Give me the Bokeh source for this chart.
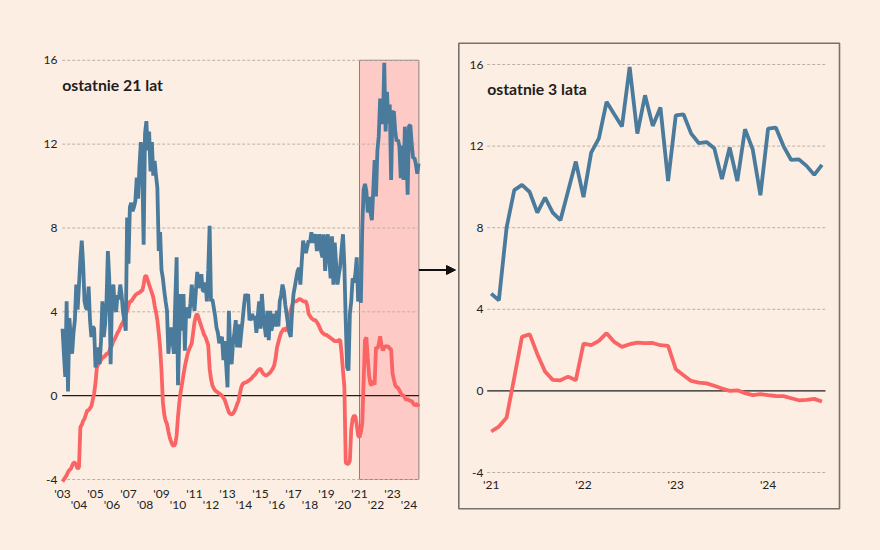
from bokeh.plotting import figure
from bokeh.models import Range1d, Arrow, NormalHead
from bokeh.core.properties import value
from bokeh.embed import file_html
from bokeh.resources import INLINE

# ---------------- data (monthly, from Jan 2003) ----------------
start_year = 2003

blue_2003_2020 = [
    3.2, 2.0, 0.9, 4.5, 0.2, 3.7, 2.8, 2.0, 3.0, 3.6, 5.3, 4.1,
    5.3, 6.5, 7.4, 6.3, 4.5, 4.2, 4.1, 5.2, 3.6, 2.8, 3.3, 3.2,
    1.35, 1.8, 2.3, 1.5, 2.6, 4.5, 2.8, 3.4, 4.5, 6.9, 5.6, 1.5,
    4.7, 5.3, 4.2, 4.0, 4.8, 4.6, 5.3, 4.8, 4.0, 3.6, 3.1, 8.5,
    6.3, 9.0, 9.2, 8.8, 9.0, 9.3, 10.4, 9.4, 11.0, 12.1, 10.9, 7.2,
    12.5, 13.1, 11.7, 12.6, 10.7, 12.1, 10.5, 11.2, 10.5, 9.9, 6.9, 7.8,
    6.0, 5.6, 5.0, 4.5, 4.05, 2.0, 2.8, 3.25, 2.6, 2.0, 4.5, 6.6,
    0.5, 3.0, 4.85, 3.1, 4.85, 2.15, 4.2, 4.0, 3.7, 4.4, 5.3, 4.6,
    4.05, 5.0, 5.9, 5.2, 5.2, 5.8, 5.0, 5.0, 5.4, 4.5, 6.0, 8.1,
    4.5, 4.6, 4.2, 3.8, 3.25, 3.0, 2.5, 2.7, 2.8, 1.7, 2.6, 1.5,
    0.4, 4.05, 2.15, 1.5, 2.5, 3.0, 3.6, 2.3, 3.4, 2.3, 3.0, 3.6,
    4.3, 4.85, 4.6, 4.85, 3.6, 3.7, 3.9, 3.6, 3.8, 3.0, 3.8, 4.5,
    3.2, 4.85, 3.9, 3.3, 2.8, 4.05, 2.65, 4.05, 3.1, 3.5, 3.9, 3.3,
    4.05, 3.3, 4.5, 4.8, 5.3, 5.0, 4.35, 3.9, 3.4, 3.0, 2.8, 4.05,
    4.85, 5.2, 5.6, 5.95, 6.1, 5.3, 6.4, 7.4, 7.1, 6.8, 7.1, 7.4,
    7.3, 7.8, 7.3, 7.5, 7.7, 6.9, 7.3, 7.7, 6.9, 6.6, 7.7, 5.95,
    6.9, 7.7, 6.5, 5.6, 7.6, 5.3, 7.3, 6.3, 5.3, 5.8, 6.2, 7.0,
    7.7, 6.2, 3.5, 1.35, 1.2, 3.9, 4.5, 5.6, 5.4, 5.8, 6.6, 4.5,
]

red_2003_2020 = [
    -4.1, -4.0, -3.9, -3.8, -3.65, -3.55, -3.5, -3.35, -3.2, -3.2, -3.3, -3.5,
    -3.4, -1.5, -1.4, -1.2, -1.1, -0.9, -0.7, -0.7, -0.6, -0.5, -0.2, 0.1,
    0.6, 1.35, 1.5, 1.6, 1.7, 1.8, 1.85, 1.9, 2.0, 2.0, 2.1, 2.3,
    2.4, 2.6, 2.7, 2.85, 3.0, 3.1, 3.25, 3.4, 3.5, 3.7, 3.9, 4.05,
    4.3, 4.5, 4.5, 4.6, 4.7, 4.8, 4.85, 4.9, 4.9, 5.0, 5.0, 5.3,
    5.7, 5.7, 5.5, 5.3, 5.1, 4.9, 4.7, 4.3, 4.0, 3.6, 3.0, 2.3,
    1.2, -0.3, -0.9, -1.2, -1.35, -1.7, -2.0, -2.2, -2.35, -2.4, -2.3, -1.9,
    -1.0, -0.3, 0.2, 0.6, 1.0, 1.4, 1.7, 2.0, 2.2, 2.35, 2.5, 3.0,
    3.5, 3.8, 3.9, 3.7, 3.5, 3.3, 3.1, 2.9, 2.8, 2.6, 2.4, 1.3,
    0.8, 0.5, 0.35, 0.25, 0.2, 0.15, 0.1, 0.05, 0.0, -0.1, -0.2, -0.4,
    -0.6, -0.8, -0.87, -0.9, -0.85, -0.75, -0.6, -0.4, -0.25, 0.1, 0.4, 0.55,
    0.6, 0.63, 0.65, 0.7, 0.75, 0.8, 0.87, 0.95, 1.0, 1.1, 1.2, 1.25,
    1.3, 1.15, 1.05, 1.0, 0.95, 1.0, 1.05, 1.1, 1.2, 1.3, 1.45, 1.8,
    2.3, 2.55, 2.8, 3.0, 3.1, 3.2, 3.15, 3.1, 3.4, 3.8, 4.1, 4.3,
    4.5, 4.5, 4.5, 4.55, 4.6, 4.6, 4.55, 4.5, 4.5, 4.5, 4.3, 3.9,
    3.8, 3.7, 3.65, 3.6, 3.6, 3.5, 3.4, 3.25, 3.1, 3.0, 2.95, 2.9,
    2.9, 2.85, 2.8, 2.75, 2.7, 2.65, 2.6, 2.6, 2.6, 2.65, 2.65, 2.0,
    1.2, 0.4, -3.2, -3.25, -3.25, -3.1, -1.6, -1.1, -0.95, -1.0, -1.4, -1.9,
]

# Jan 2021 - Aug 2024
blue_recent = [
    4.77, 4.44, 8.0, 9.84, 10.1, 9.75, 8.74, 9.48, 8.74, 8.37, 9.8, 11.24,
    9.5, 11.68, 12.38, 14.17, 13.56, 12.96, 15.88, 12.61, 14.49, 12.99, 13.89, 10.29,
    13.51, 13.56, 12.61, 12.14, 12.2, 11.9, 10.38, 11.93, 10.29, 12.83, 11.84, 9.59,
    12.86, 12.91, 12.0, 11.32, 11.35, 11.03, 10.59, 11.08,
]
red_recent = [
    -1.99, -1.75, -1.31, 0.65, 2.65, 2.78, 1.80, 0.95, 0.54, 0.52, 0.70, 0.52,
    2.32, 2.24, 2.45, 2.83, 2.40, 2.16, 2.29, 2.37, 2.34, 2.35, 2.24, 2.21,
    1.06, 0.77, 0.49, 0.41, 0.37, 0.25, 0.12, 0.0, 0.03, -0.11, -0.21, -0.16,
    -0.21, -0.25, -0.26, -0.36, -0.46, -0.44, -0.39, -0.52,
]

y_ticks = [-4, 0, 4, 8, 12, 16]
left_years_top = [2003, 2005, 2007, 2009, 2011, 2013, 2015, 2017, 2019, 2021, 2023]
left_years_bottom = [2004, 2006, 2008, 2010, 2012, 2014, 2016, 2018, 2020, 2022, 2024]
right_years = [2021, 2022, 2023, 2024]
title_left = "ostatnie 21 lat"
title_right = "ostatnie 3 lata"
zoom_start = 2021.0
zoom_end = 2024.6

# ---------------- styling / geometry ----------------
BG = "#FCEEE2"
BLUE = "#4A7B9D"
RED = "#FA6464"
GRID = "#BCB1A7"
INK = "#1E1E1E"
FONT = value("Lato")
W, H = 880, 550

# left panel pixel anchors
L_X0, L_PPY = 62.0, 16.5        # px of Jan 2003, px per year
L_Y16, L_PPU = 59.8, 20.96      # px of value 16, px per unit
# right panel pixel anchors
R_X0, R_PPY = 490.7, 92.3       # px of Jan 2021
R_Y16, R_PPU = 64.0, 20.4


def lx(px):
    return 2003 + (px - L_X0) / L_PPY


def ly(py):
    return 16 + (L_Y16 - py) / L_PPU


def rx(px):
    return 2021 + (px - R_X0) / R_PPY


def ry(py):
    return 16 + (R_Y16 - py) / R_PPU


blue_all = blue_2003_2020 + blue_recent
red_all = red_2003_2020 + red_recent
t_all = [start_year + i / 12 for i in range(len(blue_all))]
n_recent = len(blue_recent)
t_recent = t_all[-n_recent:]


def lab(y):
    return "'" + str(y)[2:]


p = figure(width=W, height=H, x_range=Range1d(lx(0), lx(W)), y_range=Range1d(ly(H), ly(0)),
           output_backend="svg", toolbar_location=None, min_border=0,
           x_axis_location=None, y_axis_location=None,
           background_fill_color=BG, border_fill_color=BG, outline_line_color=None)
p.extra_x_ranges = {"rx": Range1d(rx(0), rx(W))}
p.extra_y_ranges = {"ry": Range1d(ry(H), ry(0))}
p.xgrid.visible = False
p.ygrid.visible = False

grid_ticks = [t for t in y_ticks if t != 0]
txt = dict(text_font=FONT, text_font_size="12px", text_color="#222222")

# ---------- left panel ----------
p.quad(left=[zoom_start], right=[zoom_end], bottom=[min(y_ticks)], top=[max(y_ticks)],
       fill_color="#FFB3B3", fill_alpha=0.6, line_color="#8E7F7C", line_width=1)
p.segment(x0=[lx(61.7)] * len(grid_ticks), x1=[zoom_end] * len(grid_ticks),
          y0=grid_ticks, y1=grid_ticks, line_color=GRID, line_dash="3 2", line_width=1)
p.segment(x0=[lx(61.7)], x1=[zoom_end], y0=[0], y1=[0], line_color=INK, line_width=1.2)
p.line(t_all, red_all, line_color=RED, line_width=3.8)
p.line(t_all, blue_all, line_color=BLUE, line_width=3.8)
p.text(x=[lx(57)] * len(y_ticks), y=y_ticks, text=[str(t) for t in y_ticks],
       text_align="right", text_baseline="middle", **txt)
p.text(x=left_years_top, y=[ly(492.7)] * len(left_years_top), text=[lab(y) for y in left_years_top],
       text_align="center", text_baseline="middle", **txt)
p.text(x=left_years_bottom, y=[ly(504.3)] * len(left_years_bottom),
       text=[lab(y) for y in left_years_bottom],
       text_align="center", text_baseline="middle", **txt)
p.text(x=[lx(61.7)], y=[ly(83.6)], text=[title_left], text_font=FONT, text_font_style="bold",
       text_font_size="15.8px", text_baseline="middle", text_color=INK)
p.add_layout(Arrow(end=NormalHead(size=9, fill_color="#111111", line_color="#111111"),
                   x_start=zoom_end, y_start=ly(269.5), x_end=lx(455), y_end=ly(269.5),
                   line_color="#111111", line_width=2))

# ---------- right panel ----------
rr = dict(x_range_name="rx", y_range_name="ry")
p.quad(left=[rx(458.3)], right=[rx(839)], bottom=[ry(508.3)], top=[ry(42.7)],
       fill_alpha=0, line_color="#75716C", line_width=1.6, **rr)
p.segment(x0=[rx(486.7)] * len(grid_ticks), x1=[rx(825)] * len(grid_ticks),
          y0=grid_ticks, y1=grid_ticks, line_color=GRID, line_dash="3 2", line_width=1, **rr)
p.segment(x0=[rx(486.7)], x1=[rx(825)], y0=[0], y1=[0], line_color=INK, line_width=1.2, **rr)
p.line(t_recent, red_recent, line_color=RED, line_width=3.8, **rr)
p.line(t_recent, blue_recent, line_color=BLUE, line_width=3.8, **rr)
p.text(x=[rx(483)] * len(y_ticks), y=y_ticks, text=[str(t) for t in y_ticks],
       text_align="right", text_baseline="middle", **txt, **rr)
p.text(x=right_years, y=[ry(484)] * len(right_years), text=[lab(y) for y in right_years],
       text_align="center", text_baseline="middle", **txt, **rr)
p.text(x=[rx(486.7)], y=[ry(87.5)], text=[title_right], text_font=FONT, text_font_style="bold",
       text_font_size="15.8px", text_baseline="middle", text_color=INK, **rr)

html = file_html(p, INLINE)
html = html.replace("</head>", "<style>html,body{background:%s;}</style></head>" % BG)
open("out.html", "w").write(html)
